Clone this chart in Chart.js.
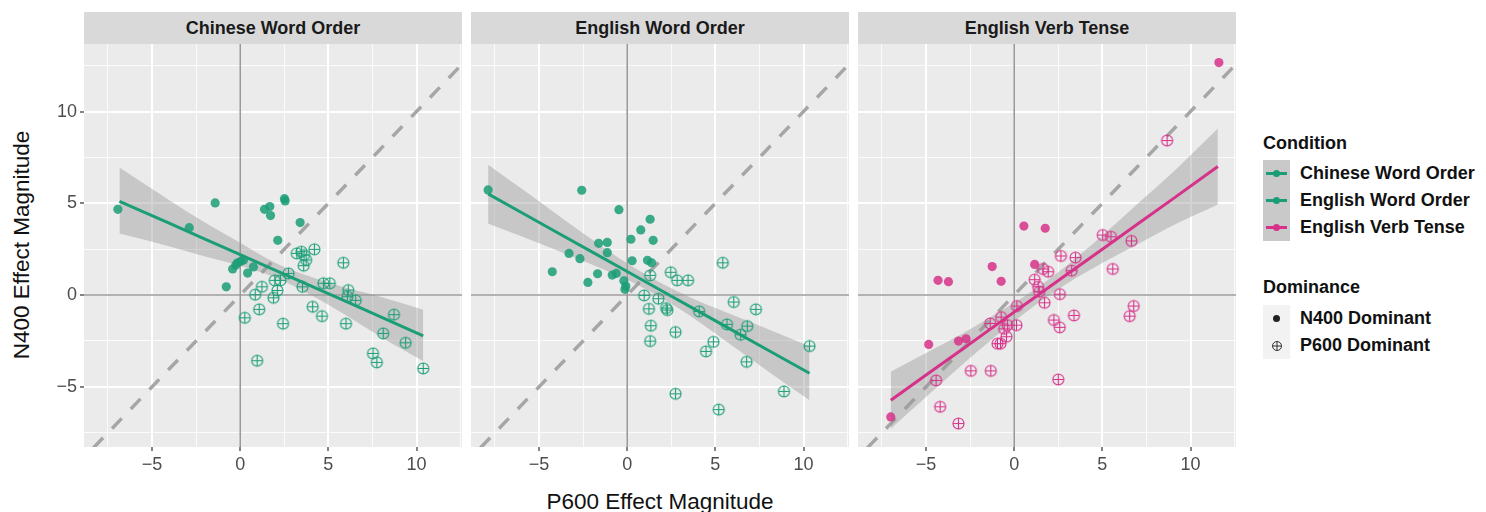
<!DOCTYPE html>
<html>
<head>
<meta charset="utf-8">
<script src="https://cdn.jsdelivr.net/npm/chart.js@4"></script>
<style>
  body { margin: 0; background: #fff; font-family: "Liberation Sans", Arial, Helvetica, sans-serif; }
  #page { position: relative; width: 1486px; height: 512px; overflow: hidden; }
  canvas { position: absolute; }
  .strip {
    position: absolute; top: 12px; height: 32px; width: 378px;
    background: #d9d9d9; color: #1a1a1a; font-weight: bold; font-size: 18px;
    line-height: 32px; text-align: center;
  }
  .axis-title { position: absolute; color: #111; font-size: 22.5px; white-space: nowrap; }
  #legend { position: absolute; left: 1263px; top: 0; }
  .leg-title { position: absolute; left: 0; font-weight: bold; font-size: 18px; color: #111; white-space: nowrap; }
  .leg-key { position: absolute; left: 0; width: 27px; height: 27px; }
  .leg-label { position: absolute; left: 37px; font-weight: bold; font-size: 18px; color: #111; white-space: nowrap; line-height: 27px; }
</style>
</head>
<body>
<div id="page">
  <canvas id="p1" width="422" height="436" style="left:40px;top:44px;width:422px;height:436px"></canvas>
  <canvas id="p2" width="378" height="436" style="left:471px;top:44px;width:378px;height:436px"></canvas>
  <canvas id="p3" width="378" height="436" style="left:858px;top:44px;width:378px;height:436px"></canvas>
  <div class="strip" style="left:84px">Chinese Word Order</div>
  <div class="strip" style="left:471px">English Word Order</div>
  <div class="strip" style="left:858px">English Verb Tense</div>
  <div class="axis-title" style="left:660px;top:489px;transform:translateX(-50%)">P600 Effect Magnitude</div>
  <div class="axis-title" style="left:22px;top:245px;transform:translate(-50%,-50%) rotate(-90deg)">N400 Effect Magnitude</div>
  <div id="legend"></div>
</div>
<script>
// facet titles and legend entries
const conditions = ["Chinese Word Order", "English Word Order", "English Verb Tense"];
const conditionColors = ["#1b9e77", "#1b9e77", "#d7328a"];
const dominance = ["N400 Dominant", "P600 Dominant"];

// axes
const xLimits = [-8.86, 12.58];
const yLimits = [-8.28, 13.68];
const majorTicks = [-5, 0, 5, 10];
const tickLabels = ["\u22125", "0", "5", "10"];
const minorTicks = [-7.5, -2.5, 2.5, 7.5, 12.5];

// Chinese Word Order
const cwoN400X = [-6.94, -2.89, -1.42, -0.79, -0.43, -0.25, -0.15, 0.04, 0.19, 0.42, 0.75, 1.38, 1.68, 1.72, 2.13, 2.51, 2.55, 3.40];
const cwoN400Y = [4.67, 3.67, 5.02, 0.45, 1.42, 1.64, 1.76, 1.84, 1.91, 1.20, 1.53, 4.67, 4.82, 4.33, 2.98, 5.25, 5.13, 3.95];
const cwoP600X = [0.26, 0.85, 0.96, 1.08, 1.23, 1.89, 1.96, 2.11, 2.28, 2.43, 2.74, 3.21, 3.47, 3.53, 3.60, 3.62, 3.74, 4.11, 4.21, 4.64, 4.72, 5.08, 5.85, 6.00, 6.08, 6.13, 6.55, 7.53, 7.75, 8.11, 8.72, 9.38, 10.38];
const cwoP600Y = [-1.24, 0.02, -3.58, -0.78, 0.45, -0.15, 0.80, 0.25, 0.80, -1.56, 1.18, 2.27, 2.36, 0.45, 1.60, 2.18, 1.91, -0.64, 2.49, -1.15, 0.64, 0.64, 1.76, -1.56, -0.09, 0.27, -0.29, -3.18, -3.67, -2.09, -1.07, -2.60, -4.00];
const cwoFitX = [-6.85, -4, -2, 0, 2, 4, 6, 8, 10.38];
const cwoFitY = [5.11, 3.90, 3.05, 2.20, 1.35, 0.50, -0.35, -1.20, -2.22];
const cwoUpper = [6.95, 5.15, 3.95, 2.85, 1.75, 1.00, 0.40, -0.10, -0.80];
const cwoLower = [3.35, 2.65, 2.10, 1.60, 0.95, 0.00, -1.10, -2.30, -3.60];

// English Word Order
const ewoN400X = [-7.89, -4.25, -3.30, -2.68, -2.58, -2.23, -1.68, -1.62, -1.13, -1.13, -0.85, -0.62, -0.47, -0.19, -0.13, -0.08, 0.21, 0.28, 0.77, 1.15, 1.30, 1.38, 1.47];
const ewoN400Y = [5.73, 1.27, 2.27, 1.98, 5.71, 0.69, 1.16, 2.82, 2.87, 2.31, 1.09, 1.18, 4.65, 0.78, 0.31, 0.49, 3.04, 1.87, 3.55, 1.89, 4.13, 1.76, 2.98];
const ewoP600X = [0.96, 1.23, 1.30, 1.30, 1.34, 1.77, 2.21, 2.28, 2.47, 2.74, 2.74, 2.83, 3.45, 4.08, 4.47, 4.89, 5.19, 5.42, 5.66, 6.04, 6.43, 6.77, 6.81, 7.30, 8.89, 10.34];
const ewoP600Y = [-0.02, -0.75, 1.07, -2.51, -1.67, -0.20, -0.71, -0.82, 1.24, -2.02, -5.38, 0.80, 0.80, -0.89, -3.07, -2.55, -6.24, 1.76, -1.60, -0.38, -2.16, -3.64, -1.69, -0.78, -5.25, -2.78];
const ewoFitX = [-7.89, -6, -4, -2, 0, 2, 4, 6, 8, 10.34];
const ewoFitY = [5.51, 4.50, 3.42, 2.35, 1.28, 0.21, -0.86, -1.94, -3.01, -4.26];
const ewoUpper = [7.10, 5.80, 4.40, 3.03, 1.73, 0.61, -0.31, -1.09, -1.86, -2.79];
const ewoLower = [3.90, 3.20, 2.44, 1.67, 0.83, -0.19, -1.41, -2.79, -4.16, -5.73];

// English Verb Tense
const evtN400X = [-7.00, -4.85, -4.32, -3.73, -3.16, -2.73, -1.25, -0.74, 0.55, 1.16, 1.76, 11.61];
const evtN400Y = [-6.64, -2.69, 0.80, 0.73, -2.51, -2.38, 1.55, 0.75, 3.76, 1.67, 3.64, 12.67];
const evtP600X = [-4.43, -4.20, -3.16, -2.46, -1.36, -1.33, -0.95, -0.78, -0.74, -0.57, -0.44, -0.38, 0.13, 0.15, 1.16, 1.36, 1.42, 1.63, 1.72, 1.93, 2.25, 2.50, 2.58, 2.59, 2.65, 3.26, 3.39, 3.48, 5.02, 5.49, 5.59, 6.55, 6.65, 6.78, 8.67];
const evtP600Y = [-4.65, -6.09, -7.00, -4.13, -1.55, -4.13, -2.65, -2.65, -1.20, -1.84, -2.27, -1.64, -1.64, -0.60, 0.84, 0.45, 0.18, 1.42, -0.42, 1.27, -1.36, -4.60, -1.76, 0.05, 2.13, 1.33, -1.11, 2.04, 3.27, 3.18, 1.42, -1.15, 2.95, -0.60, 8.42];
const evtFitX = [-7.00, -5, -3, -1, 1, 3, 5, 7, 9, 11.55];
const evtFitY = [-5.73, -4.36, -2.99, -1.61, -0.24, 1.13, 2.50, 3.87, 5.24, 7.00];
const evtUpper = [-4.18, -3.16, -2.14, -1.01, 0.21, 1.63, 3.25, 4.97, 6.69, 9.07];
const evtLower = [-7.28, -5.56, -3.84, -2.21, -0.69, 0.63, 1.75, 2.77, 3.79, 4.93];

Chart.defaults.font.family = '"Liberation Sans", Arial, Helvetica, sans-serif';

const zip = (xs, ys) => xs.map((x, i) => ({ x: x, y: ys[i] }));

// circle with a cross, like ggplot shape 10
function circlePlus(color, r, lw) {
  const size = Math.ceil(r * 2 + lw + 2);
  const c = document.createElement("canvas");
  c.width = size;
  c.height = size;
  const g = c.getContext("2d");
  const m = size / 2;
  g.strokeStyle = color;
  g.lineWidth = lw;
  g.beginPath();
  g.arc(m, m, r, 0, Math.PI * 2);
  g.moveTo(m, m - r);
  g.lineTo(m, m + r);
  g.moveTo(m - r, m);
  g.lineTo(m + r, m);
  g.stroke();
  return c;
}

function alpha(hex, a) {
  const n = parseInt(hex.slice(1), 16);
  return "rgba(" + (n >> 16) + "," + ((n >> 8) & 255) + "," + (n & 255) + "," + a + ")";
}

const panelBg = {
  id: "panelBg",
  beforeDraw(chart) {
    const a = chart.chartArea;
    chart.ctx.save();
    chart.ctx.fillStyle = "#ebebeb";
    chart.ctx.fillRect(a.left, a.top, a.right - a.left, a.bottom - a.top);
    chart.ctx.restore();
  },
};

const isMajor = (v) => majorTicks.includes(v);

function axisOptions(limits, showLabels, isX) {
  return {
    type: "linear",
    min: limits[0],
    max: limits[1],
    afterBuildTicks(scale) {
      scale.ticks = majorTicks.concat(minorTicks).sort((a, b) => a - b).map((v) => ({ value: v }));
    },
    afterFit(scale) {
      if (isX) scale.height = 33;
      else scale.width = showLabels ? 44 : 0;
      // keep the panel edges fixed
      scale.paddingTop = 0;
      scale.paddingBottom = 0;
      scale.paddingLeft = 0;
      scale.paddingRight = 0;
    },
    border: { display: false },
    grid: {
      color: (ctx) => (isMajor(ctx.tick.value) ? "#ffffff" : "rgba(255,255,255,0.8)"),
      lineWidth: (ctx) => (isMajor(ctx.tick.value) ? 2 : 1),
      drawTicks: showLabels,
      tickLength: 4,
      tickColor: (ctx) => (isMajor(ctx.tick.value) ? "#333333" : "rgba(0,0,0,0)"),
      tickWidth: 1.2,
    },
    ticks: {
      display: showLabels,
      autoSkip: false,
      maxRotation: 0,
      padding: 3,
      color: "#4d4d4d",
      font: { size: 18 },
      callback: (v) => {
        const i = majorTicks.indexOf(v);
        return i >= 0 ? tickLabels[i] : "";
      },
    },
  };
}

function makePanel(canvasId, color, n400X, n400Y, p600X, p600Y, fitX, fitY, upper, lower, showY) {
  const ctx = document.getElementById(canvasId).getContext("2d");
  return new Chart(ctx, {
    type: "scatter",
    data: {
      datasets: [
        {
          type: "line",
          data: [{ x: -20, y: 0 }, { x: 20, y: 0 }],
          borderColor: "#999999",
          borderWidth: 1.6,
          pointRadius: 0,
          clip: 0,
          order: 6,
        },
        {
          type: "line",
          data: [{ x: 0, y: -20 }, { x: 0, y: 20 }],
          borderColor: "#999999",
          borderWidth: 1.6,
          pointRadius: 0,
          clip: 0,
          order: 6,
        },
        {
          type: "line",
          data: [{ x: -20, y: -20 }, { x: 20, y: 20 }],
          borderColor: "#a6a6a6",
          borderWidth: 3.5,
          borderDash: [14, 13],
          pointRadius: 0,
          clip: 0,
          order: 5,
        },
        {
          type: "line",
          data: zip(fitX, lower),
          borderWidth: 0,
          pointRadius: 0,
          fill: false,
          cubicInterpolationMode: "monotone",
          order: 4,
        },
        {
          type: "line",
          data: zip(fitX, upper),
          borderWidth: 0,
          pointRadius: 0,
          fill: "-1",
          backgroundColor: "rgba(150,150,150,0.42)",
          cubicInterpolationMode: "monotone",
          order: 4,
        },
        {
          label: "N400 Dominant",
          data: zip(n400X, n400Y),
          pointStyle: "circle",
          pointRadius: 4.6,
          backgroundColor: alpha(color, 0.85),
          borderWidth: 0,
          order: 2,
        },
        {
          label: "P600 Dominant",
          data: zip(p600X, p600Y),
          pointStyle: circlePlus(color, 5.5, 1.1),
          pointRadius: 6,
          order: 1,
        },
        {
          type: "line",
          data: zip(fitX, fitY),
          borderColor: color,
          borderWidth: 3,
          pointRadius: 0,
          order: 0,
        },
      ],
    },
    options: {
      responsive: false,
      animation: false,
      events: [],
      layout: { padding: 0, autoPadding: false },
      plugins: { legend: { display: false }, tooltip: { enabled: false } },
      scales: {
        x: axisOptions(xLimits, true, true),
        y: axisOptions(yLimits, showY, false),
      },
    },
    plugins: [panelBg],
  });
}

makePanel("p1", conditionColors[0], cwoN400X, cwoN400Y, cwoP600X, cwoP600Y, cwoFitX, cwoFitY, cwoUpper, cwoLower, true);
makePanel("p2", conditionColors[1], ewoN400X, ewoN400Y, ewoP600X, ewoP600Y, ewoFitX, ewoFitY, ewoUpper, ewoLower, false);
makePanel("p3", conditionColors[2], evtN400X, evtN400Y, evtP600X, evtP600Y, evtFitX, evtFitY, evtUpper, evtLower, false);

// legend
const legend = document.getElementById("legend");
function addEl(cls, top, text) {
  const d = document.createElement("div");
  d.className = cls;
  d.style.top = top + "px";
  if (text) d.textContent = text;
  legend.appendChild(d);
  return d;
}

addEl("leg-title", 133, "Condition");
conditions.forEach((name, i) => {
  const top = 160 + i * 27;
  const key = addEl("leg-key", top);
  key.style.background = "#c9c9c9";
  const line = document.createElement("div");
  line.style.cssText = "position:absolute;left:3px;top:12px;width:21px;height:3px;background:" + conditionColors[i];
  key.appendChild(line);
  const dot = document.createElement("div");
  dot.style.cssText = "position:absolute;left:10px;top:10px;width:7px;height:7px;border-radius:50%;background:" + conditionColors[i];
  key.appendChild(dot);
  addEl("leg-label", top, name);
});

addEl("leg-title", 277, "Dominance");
dominance.forEach((name, i) => {
  const top = 305 + i * 27;
  const key = addEl("leg-key", top);
  key.style.background = "#f2f2f2";
  if (i === 0) {
    const dot = document.createElement("div");
    dot.style.cssText = "position:absolute;left:10px;top:10px;width:7px;height:7px;border-radius:50%;background:#222";
    key.appendChild(dot);
  } else {
    const c = circlePlus("#333333", 4.5, 1);
    c.style.cssText = "position:absolute;left:" + (13.5 - c.width / 2) + "px;top:" + (13.5 - c.height / 2) + "px";
    key.appendChild(c);
  }
  addEl("leg-label", top, name);
});
</script>
</body>
</html>
